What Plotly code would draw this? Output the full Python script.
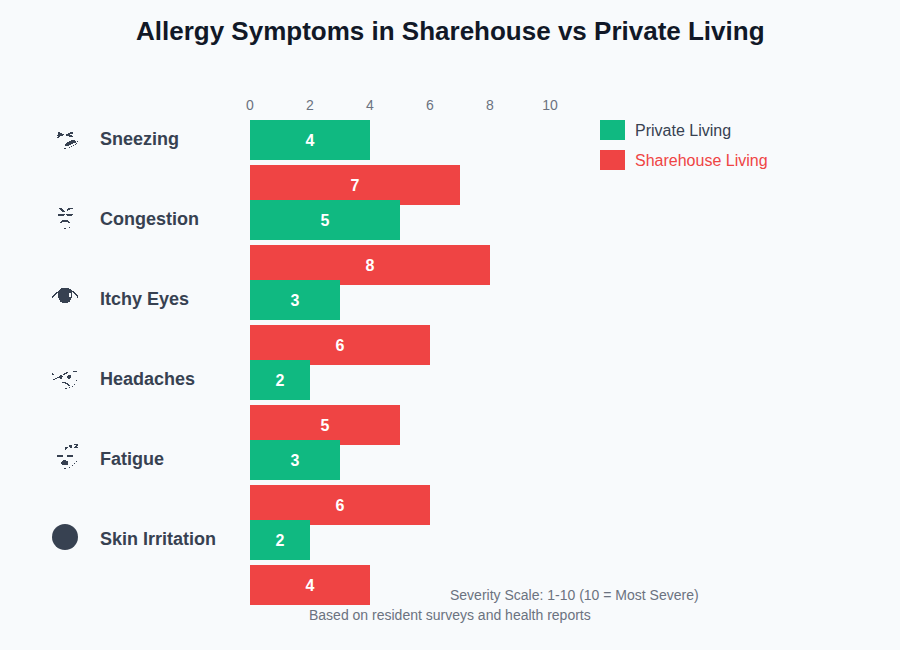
import plotly.graph_objects as go

categories = ["Sneezing", "Congestion", "Itchy Eyes", "Headaches", "Fatigue", "Skin Irritation"]
private_living = [4, 5, 3, 2, 3, 2]
sharehouse_living = [7, 8, 6, 5, 6, 4]
x_ticks = [0, 2, 4, 6, 8, 10]
title = "Allergy Symptoms in Sharehouse vs Private Living"
note_1 = "Severity Scale: 1-10 (10 = Most Severe)"
note_2 = "Based on resident surveys and health reports"

W, H = 900, 650
L, R, T, B = 250, 550, 120, 620
FONT = "Liberation Sans, Arial, sans-serif"
BG = "#f8fafc"
GREEN = "#10b981"
RED = "#ef4444"
DARK = "#374151"
GRAY = "#6b7280"

# Small pictograms beside the labels: rows of (top y, left x, right x) spans, in page pixels.
ICON_SNEEZE = [
    (132, 58, 60), (132, 70, 73), (133, 58, 62), (133, 68, 73), (134, 58, 64), (134, 66, 70),
    (135, 57, 63), (135, 66, 72), (136, 58, 60), (136, 69, 73), (137, 57, 59),
    (140, 71, 75), (141, 69, 76), (141, 77, 78), (142, 67, 76), (143, 66, 73), (143, 76, 77),
    (144, 65, 71), (144, 75, 76), (145, 65, 69), (145, 73, 74), (146, 71, 72), (147, 69, 70), (148, 64, 66),
]
ICON_CONGEST = [
    (208, 59, 62), (208, 68, 73), (209, 60, 63), (209, 67, 70), (210, 61, 64), (210, 67, 68), (211, 62, 65),
    (214, 58, 65), (214, 66, 73), (215, 58, 64), (215, 67, 72),
    (220, 62, 68), (221, 61, 69), (222, 60, 62), (222, 68, 70), (228, 64, 66), (227, 69, 70),
]
ICON_EYE = [
    (288, 61, 69), (289, 60, 71), (290, 59, 72), (291, 58, 72), (292, 58, 72), (293, 58, 69), (294, 58, 69),
    (295, 58, 69), (296, 58, 69), (297, 58, 72), (298, 59, 71), (299, 59, 71), (300, 60, 70), (301, 60, 70),
    (302, 62, 68), (292, 56, 58), (293, 55, 57), (294, 54, 56), (295, 53, 55), (296, 52, 54), (297, 52, 53),
    (291, 72, 74), (292, 73, 75), (293, 74, 76), (294, 75, 77), (295, 76, 78), (296, 77, 78), (297, 77, 78),
    (293, 71, 72), (294, 71, 72), (295, 71, 72), (296, 71, 72),
]
ICON_HEADACHE = [
    (373, 52, 53), (374, 52, 54), (379, 53, 55), (378, 55, 57), (377, 57, 59), (375, 60, 62), (376, 59, 63),
    (377, 59, 62), (378, 60, 62), (374, 63, 65), (373, 64, 67), (372, 66, 68), (371, 73, 77),
    (375, 68, 71), (376, 67, 71), (377, 67, 71), (378, 68, 70), (382, 62, 66), (383, 65, 68), (384, 67, 69),
    (385, 68, 70), (387, 69, 70), (388, 65, 67), (380, 76, 77), (384, 74, 75), (386, 72, 73),
]
ICON_FATIGUE = [
    (447, 65, 68), (448, 65, 67), (449, 65, 66), (445, 69, 72), (446, 69, 72), (447, 70, 72),
    (444, 74, 78), (445, 76, 78), (446, 75, 77), (447, 74, 78), (455, 57, 63), (456, 57, 63),
    (455, 67, 73), (456, 67, 73), (460, 63, 66), (461, 62, 68), (462, 61, 68), (463, 61, 68), (464, 62, 68),
    (468, 64, 66), (467, 69, 70), (465, 72, 73), (463, 74, 75), (461, 76, 77),
]
ICONS = [ICON_SNEEZE, ICON_CONGEST, ICON_EYE, ICON_HEADACHE, ICON_FATIGUE]

ys = list(range(len(categories)))
fig = go.Figure()
common = dict(orientation="h", width=0.5, textposition="inside", insidetextanchor="middle",
              textangle=0, textfont=dict(family=FONT, size=16, color="white", weight="bold"),
              cliponaxis=False, hoverinfo="skip", marker_line_width=0, showlegend=False)
fig.add_trace(go.Bar(y=ys, x=sharehouse_living, offset=0.3125, marker_color=RED,
                     text=sharehouse_living, name="Sharehouse Living", **common))
fig.add_trace(go.Bar(y=ys, x=private_living, offset=-0.25, marker_color=GREEN,
                     text=private_living, name="Private Living", **common))


def px(x):
    return (x - L) / (R - L)


def py(y):
    return (B - y) / (B - T)


def note(text, x, y, anchor, font):
    return dict(text=text, xref="paper", yref="paper", x=px(x), y=py(y), xanchor=anchor,
                yanchor="middle", showarrow=False, font=font)


def rect(x0, y0, x1, y1, color):
    return dict(type="rect", xref="paper", yref="paper", x0=px(x0), x1=px(x1), y0=py(y1), y1=py(y0),
                fillcolor=color, line_width=0, layer="above")


annotations = [
    note(title, 450, 31, "center", dict(family=FONT, size=26, color="#111827", weight="bold")),
    note(note_1, 448, 595, "left", dict(family=FONT, size=14, color=GRAY)),
    note(note_2, 450, 615, "center", dict(family=FONT, size=14, color=GRAY)),
    note("Private Living", 633, 130, "left", dict(family=FONT, size=16, color=DARK)),
    note("Sharehouse Living", 633, 160.5, "left", dict(family=FONT, size=16, color=RED)),
]
for i, c in enumerate(categories):
    annotations.append(note(c, 98, 139 + 80 * i, "left", dict(family=FONT, size=18, color=DARK, weight="bold")))

shapes = [rect(600, 120, 625, 140, GREEN), rect(600, 150, 625, 170, RED)]
for icon in ICONS:
    for top, x0, x1 in icon:
        shapes.append(rect(x0, top, x1, top + 1, DARK))
shapes.append(dict(type="circle", xref="paper", yref="paper", x0=px(52), x1=px(78), y0=py(550), y1=py(524),
                   fillcolor=DARK, line_width=0))

fig.update_layout(
    width=W, height=H, paper_bgcolor=BG, plot_bgcolor=BG,
    margin=dict(l=L, r=W - R, t=T, b=H - B, autoexpand=False),
    barmode="overlay",
    xaxis=dict(range=[0, 10], side="top", tickvals=x_ticks, showgrid=False, zeroline=False, showline=False,
               ticks="", ticklabelstandoff=6, tickfont=dict(family=FONT, size=14, color=GRAY)),
    yaxis=dict(range=[6, -0.25], showticklabels=False, showgrid=False, zeroline=False, showline=False, ticks=""),
    annotations=annotations, shapes=shapes,
)
fig.write_html("out.html", config=dict(displayModeBar=False),
               post_script="document.body.style.margin='0';document.documentElement.style.overflow='hidden';")
